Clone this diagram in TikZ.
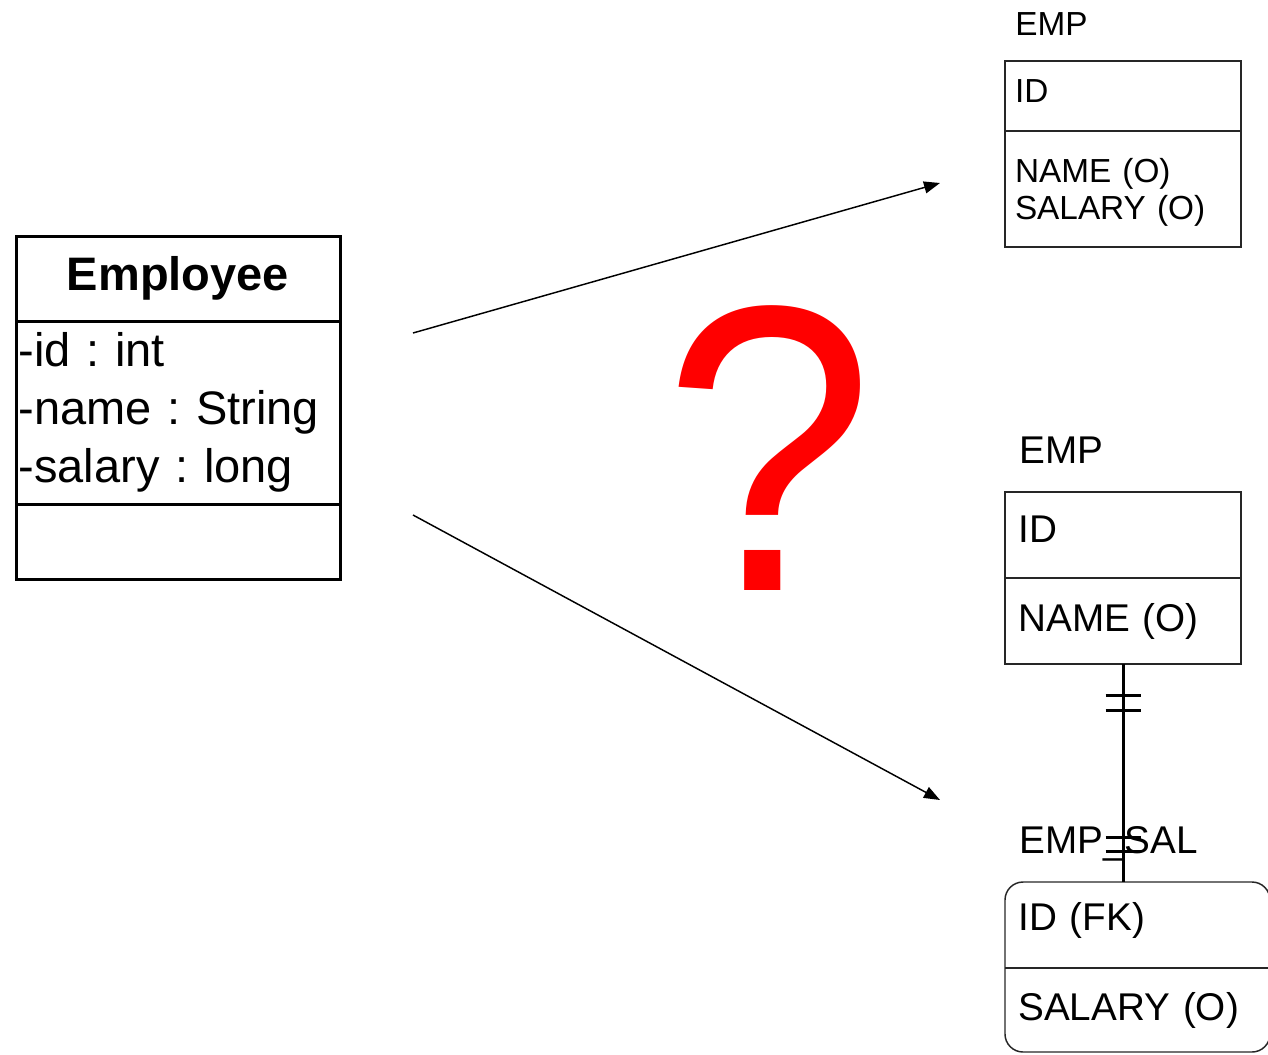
\documentclass[tikz,border=0pt]{standalone}
\usepackage{fontspec}
\setmainfont{Liberation Sans}
\frenchspacing
\usetikzlibrary{arrows.meta, positioning, calc}
\tikzstyle{classpart} = [rectangle, draw = black, line width = 2.25pt, outer sep = 0pt, minimum width = 243pt, text width = 239pt, inner xsep = 2pt, align = left, font = \fontsize{35.25pt}{43.5pt}\selectfont]
\tikzstyle{smalltable} = [rectangle, draw = black!85, line width = 1.1pt, outer sep = 0pt, minimum width = 177pt, text width = 162pt, inner xsep = 7.5pt, align = left, font = \fontsize{25pt}{27.75pt}\selectfont]
\tikzstyle{bigtable} = [rectangle, draw = black!85, line width = 1.1pt, outer sep = 0pt, minimum width = 177pt, text width = 157pt, inner xsep = 10pt, align = left, font = \fontsize{29pt}{33pt}\selectfont]
\tikzstyle{tablename} = [inner sep = 0pt, anchor = base west]
\tikzstyle{tableline} = [draw = black!85, line width = 1.1pt]
\tikzstyle{arrow} = [line width = 1.1pt, -{Triangle[length = 12pt, width = 9pt]}]
\tikzstyle{relation} = [line width = 2.25pt]

\begin{document}
\begin{tikzpicture}[x = 0.75pt, y = -0.75pt]
\path [use as bounding box, clip] (0, 0) rectangle (1268, 1054);

%NODES
\node (classname) [classpart, minimum height = 63.75pt, align = center, font = \fontsize{35.25pt}{43.5pt}\selectfont\bfseries] at (178, 278.5) {Employee};
\node (classattr) [classpart, minimum height = 137.25pt, below = 0pt of classname] {-id : int \\ -name : String \\ -salary : long};
\node (classops) [classpart, minimum height = 56.25pt, below = 0pt of classattr] {};

\node (emptopname) [tablename, font = \fontsize{25pt}{27.75pt}\selectfont] at (1015, 35) {EMP};
\node (emptopkey) [smalltable, minimum height = 52.5pt, text height = 18pt, text depth = 9pt] at (1123, 96) {ID};
\node (emptopattr) [smalltable, minimum height = 87pt, below = 0pt of emptopkey, text depth = 28.5pt] {NAME (O) \\ SALARY (O)};

\node (empbotname) [tablename, font = \fontsize{29pt}{33pt}\selectfont] at (1019, 463) {EMP};
\node (empbotkey) [bigtable, minimum height = 64.5pt, text height = 21pt, text depth = 10.5pt] at (1123, 535) {ID};
\node (empbotattr) [bigtable, minimum height = 64.5pt, below = 0pt of empbotkey] {NAME (O)};

\node (salname) [tablename, font = \fontsize{29pt}{33pt}\selectfont] at (1019, 853) {EMP\_SAL};
\node (salkey) [bigtable, draw = none, minimum width = 198.75pt, text width = 178.75pt, minimum height = 64.5pt, text height = 21pt, text depth = 13.5pt] at (1137.5, 925) {ID (FK)};
\node (salattr) [bigtable, draw = none, minimum width = 198.75pt, text width = 178.75pt, minimum height = 63pt, below = 0pt of salkey] {SALARY (O)};
\draw [tableline, rounded corners = 13.5pt] (salkey.north west) rectangle (salattr.south east);
\draw [tableline] (salkey.south west) -- (salkey.south east);

\node (query) [text = red, inner sep = 0pt, xscale = 0.93, font = \fontsize{306pt}{306pt}\selectfont] at (769, 448.5) {?};

%ARROWS
\coordinate (toptail) at (413, 333);
\coordinate (tophead) at (940, 183);
\coordinate (bottail) at (413, 515);
\coordinate (bothead) at (940, 800);
\draw [arrow] (toptail) -- (tophead);
\draw [arrow] (bottail) -- (bothead);

%RELATION
\coordinate (relend) at (salkey.north -| empbotattr.south);
\draw [relation] (empbotattr.south) -- (relend);
\foreach \d in {31, 46} {
  \draw [relation] ($(empbotattr.south) + (-17.5, \d)$) -- ++(35, 0);
}
\foreach \d in {31, 45} {
  \draw [relation] ($(relend) + (-17.5, -\d)$) -- ++(35, 0);
}

\end{tikzpicture}
\end{document}
